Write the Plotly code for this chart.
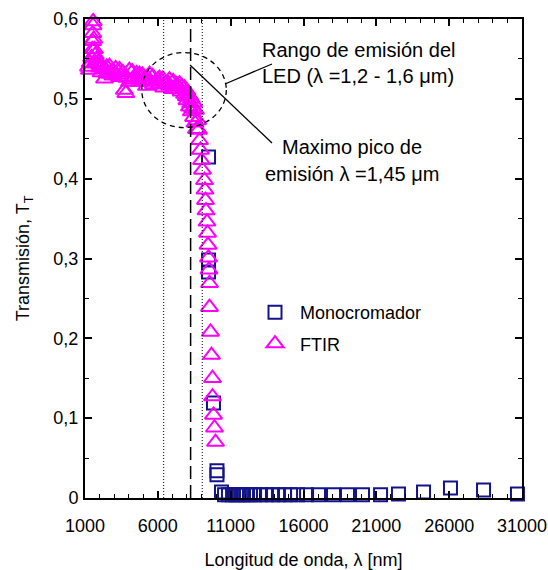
import plotly.graph_objects as go

# ---------------- data ----------------
mono_nm = [9480, 9480, 9480, 9820, 10060, 10060, 10370, 10580, 10850, 11130, 11400,
           11600, 11880, 12090, 12360, 12640, 13050, 13460, 13870, 14280, 14700,
           15110, 15590, 16210, 17030, 18060, 19020, 20050, 21290, 22520, 24240,
           26090, 28360, 30690]
mono_T = [0.427, 0.298, 0.283, 0.119, 0.034, 0.029, 0.0075, 0.004, 0.004, 0.004, 0.004,
          0.004, 0.004, 0.004, 0.004, 0.004, 0.004, 0.004, 0.004, 0.004, 0.004,
          0.004, 0.004, 0.004, 0.004, 0.004, 0.004, 0.004, 0.004, 0.005, 0.0075,
          0.0125, 0.010, 0.005]

ftir_nm = [1240, 1350, 1450, 1500, 1520, 1535, 1550, 1560, 1600, 1650, 1700, 1800,
           1900, 2000, 2000, 2200, 2340, 2400, 2500, 2680, 2680, 2900, 3100, 3200,
           3370, 3370, 3600, 3700, 3800, 3850, 4050, 4050, 4250, 4400, 4550, 4740,
           4740, 4950, 5100, 5220, 5430, 5430, 5650, 5850, 6110, 6110, 6350, 6550,
           6800, 6800, 7050, 7250, 7490, 7490, 7650, 7830, 7830, 8000, 8000, 8170,
           8170, 8300, 8300, 8450, 8450,
           1300, 1700, 2100, 2500, 2900, 3300, 4300, 4600, 5000, 5300, 5700, 6000,
           6400, 6700, 7000, 7300, 7600, 7950, 8250, 8400, 8550, 8650,
           8586, 8723, 8792, 8860, 8929, 8998, 9066, 9204, 9238, 9272, 9307, 9375,
           9410, 9444, 9478, 9513, 9547, 9547, 9616, 9684, 9753, 9753, 9822, 9890,
           9959]
ftir_T = [0.540, 0.545, 0.552, 0.562, 0.572, 0.582, 0.592, 0.597, 0.575, 0.562, 0.555, 0.550,
          0.546, 0.543, 0.539, 0.541, 0.525, 0.537, 0.540, 0.541, 0.531, 0.535, 0.538, 0.530,
          0.537, 0.527, 0.533, 0.511, 0.507, 0.526, 0.536, 0.521, 0.534, 0.527, 0.532, 0.531,
          0.521, 0.530, 0.524, 0.516, 0.531, 0.521, 0.528, 0.522, 0.526, 0.519, 0.525, 0.518,
          0.524, 0.516, 0.522, 0.515, 0.519, 0.512, 0.516, 0.514, 0.506, 0.510, 0.498, 0.504,
          0.490, 0.500, 0.484, 0.495, 0.477,
          0.536, 0.544, 0.533, 0.532, 0.529, 0.534, 0.524, 0.526, 0.522, 0.527, 0.518, 0.524,
          0.514, 0.520, 0.512, 0.518, 0.509, 0.503, 0.494, 0.488, 0.470, 0.462,
          0.486, 0.473, 0.461, 0.448, 0.436, 0.423, 0.411, 0.398, 0.386, 0.373, 0.360, 0.346,
          0.332, 0.317, 0.301, 0.286, 0.269, 0.239, 0.208, 0.179, 0.150, 0.127, 0.104, 0.088,
          0.070]

x_ticks = [1000, 6000, 11000, 16000, 21000, 26000, 31000]
x_ticklabels = ["1000", "6000", "11000", "16000", "21000", "26000", "31000"]
y_ticks = [0, 0.1, 0.2, 0.3, 0.4, 0.5, 0.6]
y_ticklabels = ["0", "0,1", "0,2", "0,3", "0,4", "0,5", "0,6"]

led_range_nm = [6400, 9050]      # dotted lines
led_peak_nm = 8250               # dashed line
circle_x = [4900, 10700]
circle_y = [0.464, 0.558]

# ---------------- layout helpers ----------------
W, H = 548, 570
ML, MR, MT, MB = 85, 26, 19, 72
PW, PH = W - ML - MR, H - MT - MB


def pp(px, py):
    """pixel -> paper coordinates"""
    return (px - ML) / PW, (H - MB - py) / PH


FONT = "Liberation Sans, Arial, sans-serif"

fig = go.Figure()
fig.add_trace(go.Scatter(
    x=mono_nm, y=mono_T, mode="markers", name="Monocromador", legendgroup="a",
    marker=dict(symbol="square-open", size=13, color="#14148a", line=dict(width=2)),
    cliponaxis=False))
fig.add_trace(go.Scatter(
    x=ftir_nm, y=ftir_T, mode="markers", name="FTIR", legendgroup="b",
    marker=dict(symbol="triangle-up-open", size=15, color="#ff00ff", line=dict(width=2)),
    cliponaxis=False))

shapes = []
for xv in led_range_nm:
    shapes.append(dict(type="line", xref="x", yref="paper", x0=xv, x1=xv, y0=0, y1=1,
                       line=dict(color="black", width=1, dash="1px,2px")))
shapes.append(dict(type="line", xref="x", yref="paper", x0=led_peak_nm, x1=led_peak_nm,
                   y0=0, y1=1, line=dict(color="black", width=1.5, dash="13px,6px")))
shapes.append(dict(type="circle", xref="x", yref="y", x0=circle_x[0], x1=circle_x[1],
                   y0=circle_y[0], y1=circle_y[1],
                   line=dict(color="black", width=1.3, dash="5px,4px")))
a0 = pp(225, 84); a1 = pp(272, 64)
shapes.append(dict(type="line", xref="paper", yref="paper", x0=a0[0], y0=a0[1],
                   x1=a1[0], y1=a1[1], line=dict(color="black", width=1.3)))
b0 = pp(190, 65); b1 = pp(272, 143)
shapes.append(dict(type="line", xref="paper", yref="paper", x0=b0[0], y0=b0[1],
                   x1=b1[0], y1=b1[1], line=dict(color="black", width=1.3)))

annotations = []
for txt, (px, py) in [("Rango de emisión del", (358, 50)),
                      ("LED (λ =1,2 - 1,6 μm)", (358, 76)),
                      ("Maximo pico de", (352, 147)),
                      ("emisión λ =1,45 μm", (352, 174))]:
    xx, yy = pp(px, py)
    annotations.append(dict(text=txt, xref="paper", yref="paper", x=xx, y=yy,
                            xanchor="center", yanchor="middle", showarrow=False,
                            font=dict(size=20, family=FONT, color="black")))

lx, ly = pp(250, 294)

fig.update_layout(
    width=W, height=H,
    margin=dict(l=ML, r=MR, t=MT, b=MB, pad=0, autoexpand=False),
    paper_bgcolor="white", plot_bgcolor="white",
    font=dict(family=FONT, size=18, color="black"),
    separators=",.",
    showlegend=True,
    legend=dict(x=lx, y=ly, xanchor="left", yanchor="top", bgcolor="rgba(0,0,0,0)",
                font=dict(size=18), itemwidth=40, tracegroupgap=5,
                traceorder="grouped"),
    shapes=shapes,
    annotations=annotations,
    xaxis=dict(range=[1000, 31000], tickmode="array", tickvals=x_ticks,
               ticktext=x_ticklabels, ticks="inside", ticklen=7, tickwidth=1.5,
               tickcolor="black", showline=True, linecolor="black", linewidth=2,
               mirror="allticks", showgrid=False, zeroline=False, automargin=False,
               ticklabelstandoff=10,
               minor=dict(tickmode="linear", tick0=1000, dtick=1000, ticks="inside",
                          ticklen=4, tickwidth=1, tickcolor="black", showgrid=False),
               title=dict(text="Longitud de onda, λ [nm]", font=dict(size=18),
                          standoff=20)),
    yaxis=dict(range=[0, 0.6], tickmode="array", tickvals=y_ticks,
               ticktext=y_ticklabels, ticks="inside", ticklen=7, tickwidth=1.5,
               tickcolor="black", showline=True, linecolor="black", linewidth=2,
               mirror="allticks", showgrid=False, zeroline=False, automargin=False,
               ticklabelstandoff=1,
               minor=dict(tickmode="linear", tick0=0, dtick=0.05, ticks="inside",
                          ticklen=4, tickwidth=1, tickcolor="black", showgrid=False),
               title=dict(text="Transmisión, T<sub>T</sub>", font=dict(size=18),
                          standoff=19)),
)

fig.write_html("out.html")
